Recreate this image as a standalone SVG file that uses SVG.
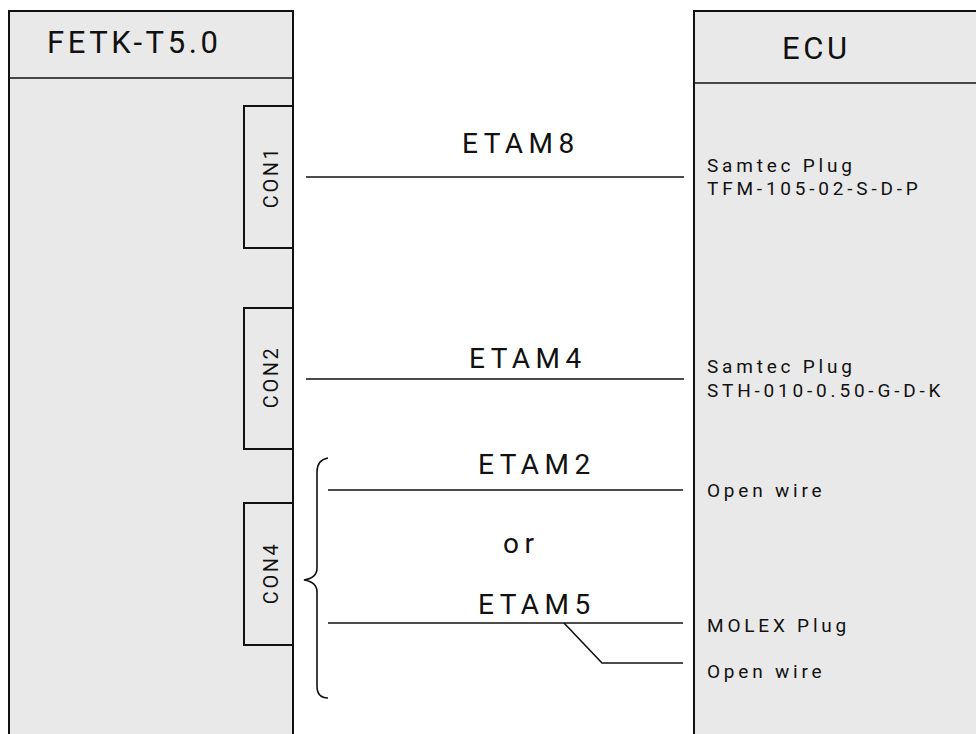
<svg xmlns="http://www.w3.org/2000/svg" width="976" height="734" viewBox="0 0 976 734">
<style>
.box{fill:#e9e9e9;stroke:#111;stroke-width:2}
.ln{fill:none;stroke:#111;stroke-width:1.6}
text{font-family:Roboto,"Liberation Sans",sans-serif;fill:#111}
.big{font-size:31px;letter-spacing:3.6px}
.etam{font-size:28px;letter-spacing:5.5px}
.sm{font-size:19px;letter-spacing:3.8px}
.con{font-size:20px;letter-spacing:2.5px}
</style>
<rect width="976" height="734" fill="#fff"/>
<g id="fetk">
<rect class="box" x="9" y="11" width="284" height="740"/>
<line class="ln" x1="9" y1="78" x2="293" y2="78" stroke-width="2"/>
<text class="big" x="47" y="53">FETK-T5.0</text>
</g>
<g id="ecu">
<rect class="box" x="694" y="11" width="300" height="740"/>
<line class="ln" x1="694" y1="83" x2="976" y2="83" stroke-width="2"/>
<text class="big" x="782" y="59">ECU</text>
<text class="sm" x="707" y="172">Samtec Plug</text>
<text class="sm" x="707" y="195">TFM-105-02-S-D-P</text>
<text class="sm" x="707" y="373">Samtec Plug</text>
<text class="sm" x="707" y="397">STH-010-0.50-G-D-K</text>
<text class="sm" x="707" y="497">Open wire</text>
<text class="sm" x="707" y="632">MOLEX Plug</text>
<text class="sm" x="707" y="678">Open wire</text>
</g>
<g id="con1">
<rect class="box" x="244" y="106" width="49" height="142"/>
<text class="con" transform="translate(278,177) rotate(-90)" text-anchor="middle">CON1</text>
</g>
<g id="con2">
<rect class="box" x="244" y="308" width="49" height="141"/>
<text class="con" transform="translate(278,377) rotate(-90)" text-anchor="middle">CON2</text>
</g>
<g id="con4">
<rect class="box" x="244" y="503" width="49" height="142"/>
<text class="con" transform="translate(278,573) rotate(-90)" text-anchor="middle">CON4</text>
</g>
<g id="connectors">
<line class="ln" x1="306" y1="177" x2="684" y2="177"/>
<line class="ln" x1="306" y1="379" x2="684" y2="379"/>
<line class="ln" x1="328" y1="490" x2="683" y2="490"/>
<line class="ln" x1="328" y1="623" x2="683" y2="623"/>
<polyline class="ln" points="564,623 602,663 683,663"/>
<path class="ln" d="M328,458 Q317,460 317,472 L317,568 Q317,578 304,580 Q317,582 317,592 L317,686 Q317,698 328,698"/>
</g>
<g id="labels">
<text class="etam" x="462" y="153">ETAM8</text>
<text class="etam" x="469" y="368">ETAM4</text>
<text class="etam" x="478" y="474">ETAM2</text>
<text class="etam" x="503" y="553">or</text>
<text class="etam" x="478" y="614">ETAM5</text>
</g>
</svg>
